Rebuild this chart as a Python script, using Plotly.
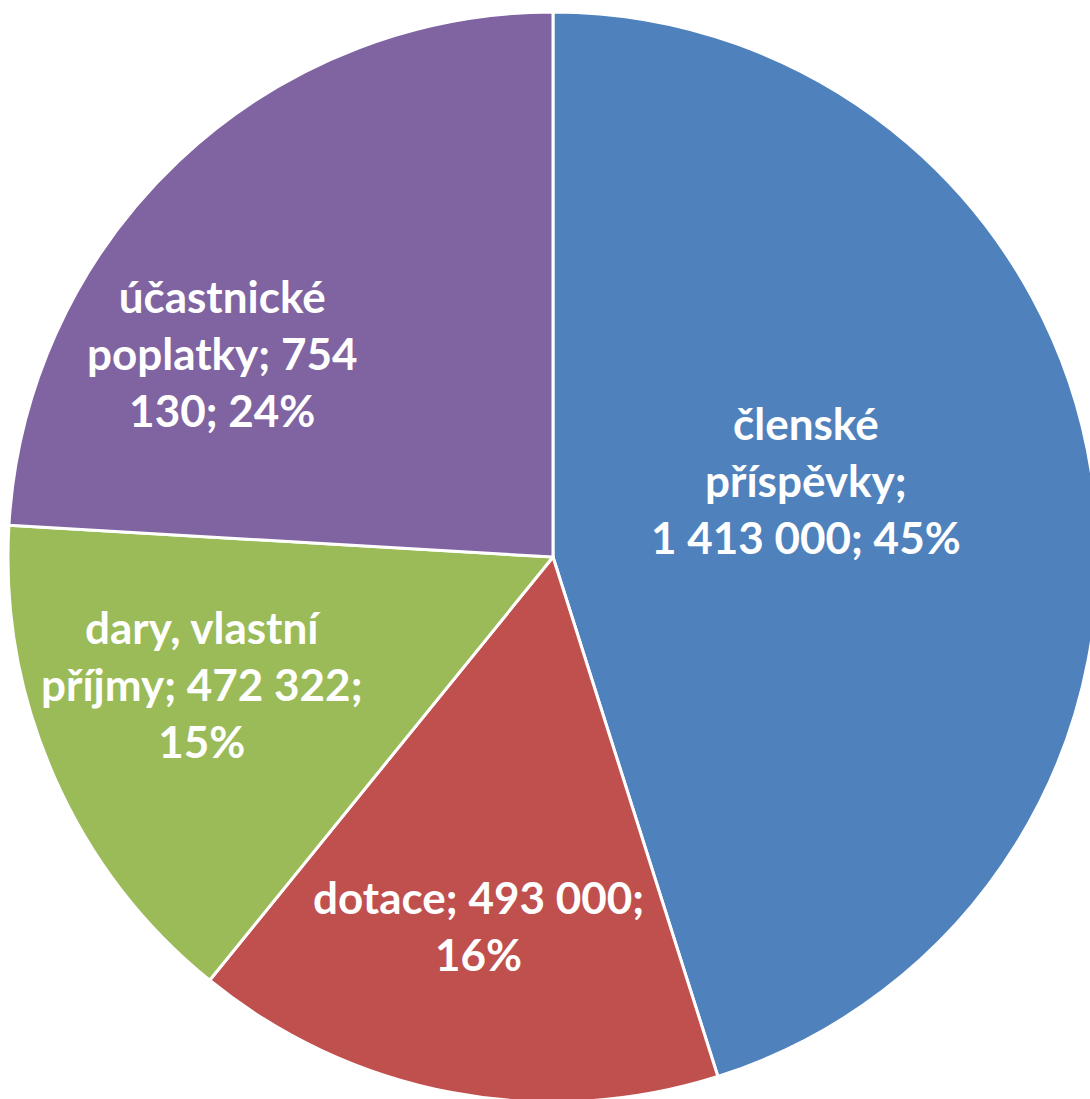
import plotly.graph_objects as go

# ---- data ----
categories = ["členské příspěvky", "dotace", "dary, vlastní příjmy", "účastnické poplatky"]
values = [1413000, 493000, 472322, 754130]
colors = ["#4F81BD", "#C0504D", "#9BBB59", "#8064A2"]

# label line breaks (as in reference wrapping)
label_lines = [
    ["členské", "příspěvky;", "{v}; {p}"],
    ["dotace; {v};", "{p}"],
    ["dary, vlastní", "příjmy; {v};", "{p}"],
    ["účastnické", "poplatky; {v1}", "{v2}; {p}"],
]
# label anchor positions in pixels (layout)
label_pos = [(806, 480), (478, 925), (202, 684), (222, 353)]

W, H = 1100, 1104
CX, CY, R = 553, 557, 545

total = sum(values)

def fmt(v):
    return f"{v:,}".replace(",", " ")

fig = go.Figure(go.Pie(
    labels=categories,
    values=values,
    sort=False,
    direction="clockwise",
    rotation=0,
    marker=dict(colors=colors, line=dict(color="white", width=3)),
    textinfo="none",
    hoverinfo="label+value+percent",
    domain=dict(x=[(CX - R) / W, (CX + R) / W], y=[(H - (CY + R)) / H, (H - (CY - R)) / H]),
    showlegend=False,
))

annotations = []
for i, (lines, (px, py)) in enumerate(zip(label_lines, label_pos)):
    v = values[i]
    p = f"{round(100 * v / total)}%"
    s = fmt(v)
    parts = s.split(" ")
    v1 = parts[0]
    v2 = " ".join(parts[1:])
    txt = "<br>".join(l.format(v=s, p=p, v1=v1, v2=v2) for l in lines)
    annotations.append(dict(
        x=px / W, y=1 - py / H, xref="paper", yref="paper",
        text=txt, showarrow=False, xanchor="center", yanchor="middle",
        align="center",
        font=dict(family="Lato", size=44, color="white", weight="bold"),
    ))

fig.update_layout(
    width=W, height=H,
    margin=dict(l=0, r=0, t=0, b=0),
    paper_bgcolor="white", plot_bgcolor="white",
    annotations=annotations,
)

fig.write_html(
    "out.html",
    config={"displayModeBar": False},
    post_script="document.body.style.margin='0';document.body.style.overflow='hidden';document.documentElement.style.overflow='hidden';",
)
